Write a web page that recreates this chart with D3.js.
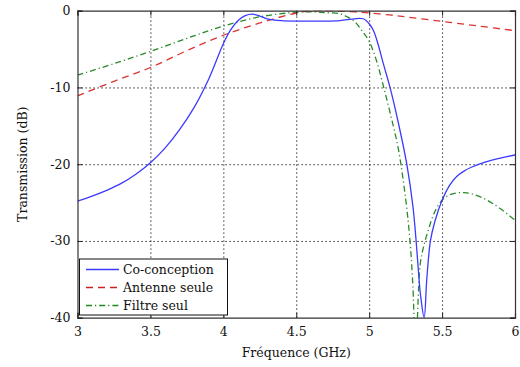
<!DOCTYPE html>
<html><head><meta charset="utf-8">
<script src="https://cdn.jsdelivr.net/npm/d3@7"></script>
<style>
html,body{margin:0;padding:0;background:#fff;}
svg text{font-family:"DejaVu Serif","Liberation Serif","Noto Serif",serif !important;}
</style></head>
<body><svg id="c" width="520" height="367"></svg>
<script>
const xTicks = [3, 3.5, 4, 4.5, 5, 5.5, 6];
const xTickLabels = ["3", "3.5", "4", "4.5", "5", "5.5", "6"];
const yTicks = [0, -10, -20, -30, -40];
const yTickLabels = ["0", "-10", "-20", "-30", "-40"];
const seriesNames = ["Co-conception", "Antenne seule", "Filtre seul"];

const coFreq = [3.0,3.1,3.2,3.3,3.4,3.5,3.6,3.7,3.8,3.9,4.0,4.05,4.1,4.15,4.2,4.25,4.3,4.4,4.5,4.6,4.7,4.8,4.88,4.93,4.96,4.98,5.0,5.03,5.06,5.1,5.143,5.2,5.258,5.3,5.322,5.342,5.355,5.377,5.395,5.42,5.45,5.5,5.55,5.6,5.65,5.7,5.8,5.9,6.0];
const coDb   = [-24.8,-24.15,-23.4,-22.5,-21.3,-19.8,-17.9,-15.5,-12.6,-8.9,-4.3,-2.5,-1.3,-0.65,-0.45,-0.7,-1.05,-1.3,-1.35,-1.35,-1.35,-1.3,-1.1,-1.0,-1.05,-1.3,-1.7,-2.6,-4.3,-7.1,-10,-14.6,-20,-25.5,-30,-35,-37.5,-40,-35,-30,-27.5,-24.7,-22.8,-21.6,-20.9,-20.4,-19.7,-19.2,-18.8];

const antFreq = [3.0,3.25,3.5,3.75,4.0,4.25,4.5,4.6,4.7,4.8,4.9,5.0,5.14,5.25,5.5,5.75,6.0];
const antDb   = [-11.1,-9.2,-7.4,-5.2,-3.2,-1.6,-0.3,0,0,-0.05,-0.15,-0.3,-0.55,-0.8,-1.4,-2.0,-2.6];

const filFreq = [3.0,3.25,3.5,3.75,4.0,4.25,4.5,4.6,4.7,4.8,4.85,4.9,4.95,5.0,5.05,5.1,5.15,5.2,5.25,5.28,5.3,5.32,5.335,5.35,5.37,5.405,5.45,5.5,5.55,5.6,5.65,5.7,5.8,5.9,6.0];
const filDb   = [-8.4,-6.9,-5.3,-3.6,-2.0,-0.8,-0.2,-0.15,-0.25,-0.4,-0.8,-1.4,-2.6,-4.0,-6.5,-10,-13.8,-18,-24.5,-30,-36,-46,-38,-33,-31,-28.6,-26.2,-24.7,-24.0,-23.75,-23.7,-23.85,-24.6,-25.8,-27.3];

const svg = d3.select("#c");
const L = 77.5, R = 515, T = 10.7, B = 317.7;
const x = d3.scaleLinear().domain([3, 6]).range([L, R]);
const y = d3.scaleLinear().domain([-40, 0]).range([B, T]);
const font = 12.5;
const FF = "DejaVu Serif, Liberation Serif, serif";

// grid
const grid = svg.append("g");
grid.append("g").attr("transform", `translate(0,${B})`)
  .call(d3.axisBottom(x).tickValues(xTicks.slice(1, -1)).tickSize(-(B - T)).tickFormat(""))
  .call(g => g.select(".domain").remove())
  .call(g => g.selectAll("line").attr("stroke", "#000").attr("stroke-dasharray", "1.2,2.8").attr("stroke-width", 1));
grid.append("g").attr("transform", `translate(${L},0)`)
  .call(d3.axisLeft(y).tickValues(yTicks.slice(1, -1)).tickSize(-(R - L)).tickFormat(""))
  .call(g => g.select(".domain").remove())
  .call(g => g.selectAll("line").attr("stroke", "#000").attr("stroke-dasharray", "1.2,2.8").attr("stroke-width", 1));

// clip
svg.append("clipPath").attr("id", "clip").append("rect")
  .attr("x", L).attr("y", T).attr("width", R - L).attr("height", B - T);

const line = d3.line().x(d => x(d[0])).y(d => y(d[1])).curve(d3.curveCatmullRom.alpha(0.5));
const plot = svg.append("g").attr("clip-path", "url(#clip)");
const styles = [
  {stroke: "#3b3bff", dash: null},
  {stroke: "#dd3333", dash: "7,5"},
  {stroke: "#2a8a2a", dash: "6,3,1.2,3"}
];
const data = [
  d3.zip(coFreq, coDb),
  d3.zip(antFreq, antDb),
  d3.zip(filFreq, filDb)
];
[2, 1, 0].forEach(i => {
  plot.append("path").datum(data[i]).attr("d", line)
    .attr("fill", "none").attr("stroke", styles[i].stroke)
    .attr("stroke-width", 1.3)
    .attr("stroke-dasharray", styles[i].dash);
});

// axes with inside ticks
const axB = svg.append("g").attr("transform", `translate(0,${B})`)
  .call(d3.axisBottom(x).tickValues(xTicks).tickSize(-5).tickPadding(9).tickFormat((d, i) => xTickLabels[i]));
const axT = svg.append("g").attr("transform", `translate(0,${T})`)
  .call(d3.axisTop(x).tickValues(xTicks).tickSize(-5).tickFormat(""));
const axL = svg.append("g").attr("transform", `translate(${L},0)`)
  .call(d3.axisLeft(y).tickValues(yTicks).tickSize(-5).tickPadding(7).tickFormat((d, i) => yTickLabels[i]));
const axR = svg.append("g").attr("transform", `translate(${R},0)`)
  .call(d3.axisRight(y).tickValues(yTicks).tickSize(-5).tickFormat(""));
[axB, axT, axL, axR].forEach(a => {
  a.attr("font-family", FF);
  a.select(".domain").attr("stroke", "#333").attr("stroke-width", 1.2);
  a.selectAll("line").attr("stroke", "#222");
  a.selectAll("text").attr("font-family", FF).attr("font-size", font).attr("fill", "#111");
});

// axis titles
svg.append("text").attr("x", (L + R) / 2).attr("y", 357).attr("text-anchor", "middle")
  .attr("font-family", FF).attr("font-size", font).attr("fill", "#111").text("Fréquence (GHz)");
svg.append("text").attr("transform", `translate(27,${(T + B) / 2}) rotate(-90)`)
  .attr("text-anchor", "middle").attr("font-family", FF).attr("font-size", font).attr("fill", "#111").text("Transmission (dB)");

// legend
const lg = svg.append("g");
lg.append("rect").attr("x", 79.5).attr("y", 259).attr("width", 148).attr("height", 56)
  .attr("fill", "#fff").attr("stroke", "#111").attr("stroke-width", 1);
const legColors = ["#3b3bff", "#cc2222", "#1a8a1a"];
seriesNames.forEach((n, i) => {
  const yy = 269.5 + i * 18;
  lg.append("line").attr("x1", 86).attr("x2", 119).attr("y1", yy).attr("y2", yy)
    .attr("stroke", legColors[i]).attr("stroke-width", 1.3)
    .attr("stroke-dasharray", i === 1 ? "7,5" : i === 2 ? "6,3,1.2,3" : null);
  lg.append("text").attr("x", 123).attr("y", yy + 4.5).attr("font-family", FF).attr("font-size", font).attr("fill", "#111").text(n);
});
</script></body></html>
